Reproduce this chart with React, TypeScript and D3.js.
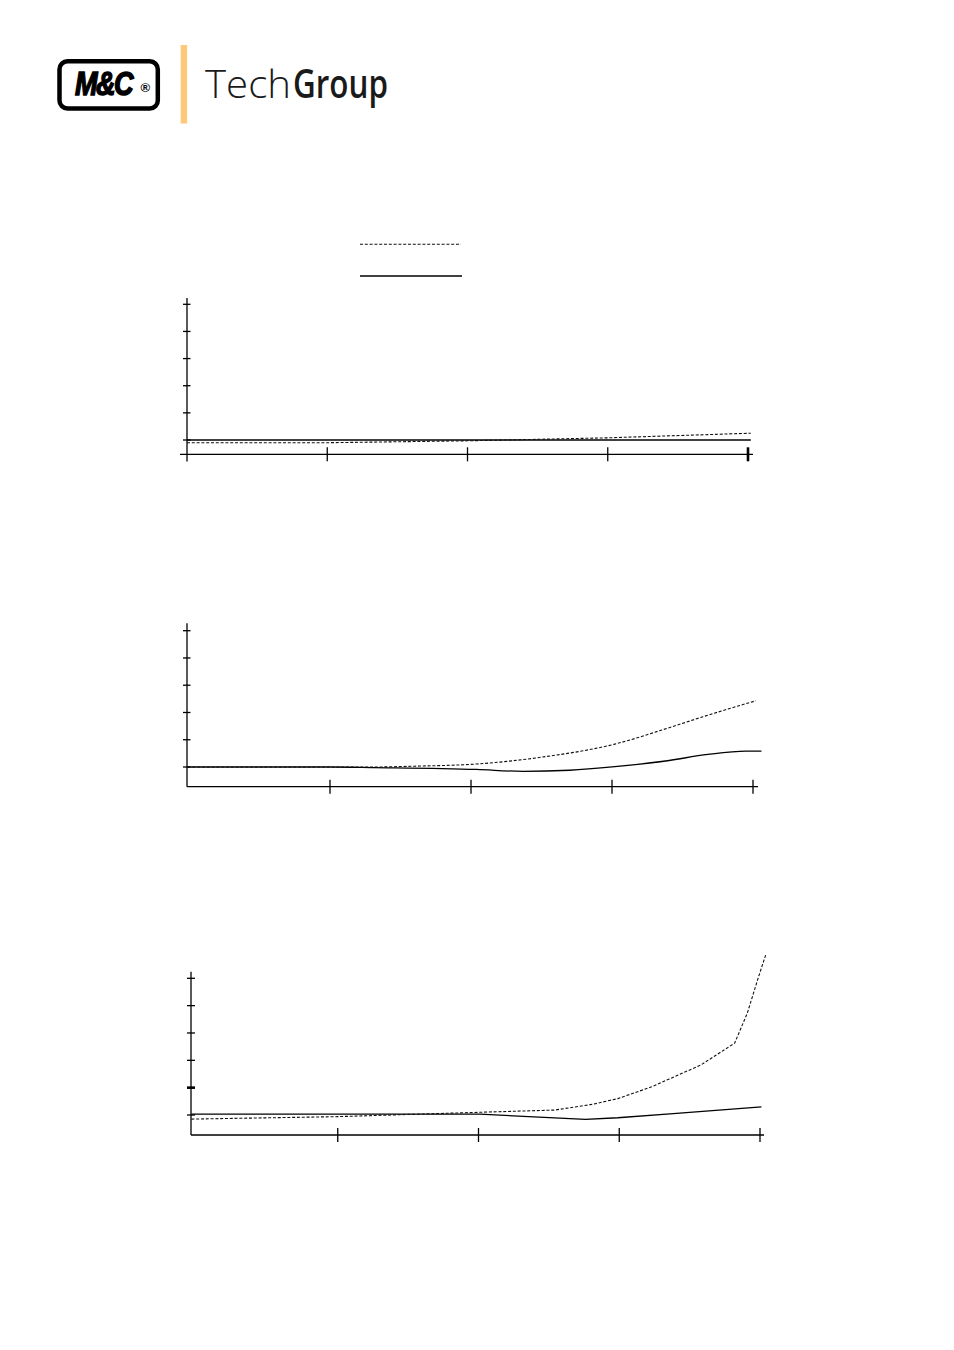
import React from "react";
import * as d3 from "d3";

// ---------- data ----------
const xTicks = [1, 2, 3, 4];
const yTicks = [0, 1, 2, 3, 4, 5];

// Panel 1
const p1DashedX = [0, 1, 2, 3, 4.02];
const p1DashedY = [-0.1, -0.1, -0.03, 0.08, 0.25];
const p1SolidX = [0, 1, 2, 3, 4.02];
const p1SolidY = [0, 0, 0, 0, 0];

// Panel 2
const p2DashedX = [-0.01, 1.0, 1.31, 1.6, 2.04, 2.5, 3.02, 3.41, 3.68, 4.02];
const p2DashedY = [0, 0, 0, 0.03, 0.11, 0.36, 0.84, 1.45, 1.9, 2.43];
const p2SolidX = [-0.01, 1.0, 1.31, 2.04, 2.37, 2.7, 3.02, 3.38, 3.68, 3.95, 4.06];
const p2SolidY = [0, 0, -0.02, -0.09, -0.16, -0.12, 0.01, 0.22, 0.46, 0.58, 0.58];

// Panel 3
const p3DashedX = [-0.04, 1.0, 2.01, 2.54, 2.81, 2.99, 3.23, 3.58, 3.82, 3.91, 3.99, 4.04];
const p3DashedY = [-0.15, -0.06, 0.1, 0.18, 0.39, 0.6, 1.03, 1.83, 2.63, 3.73, 5.06, 5.85];
const p3SolidX = [-0.04, 2.01, 2.76, 2.99, 3.36, 4.01];
const p3SolidY = [0.03, 0.03, -0.16, -0.1, 0.04, 0.3];

type Pt = [number, number];
const zip = (xs: number[], ys: number[]): Pt[] => xs.map((x, i) => [x, ys[i]]);

interface PanelCfg {
  x0: number; x4: number; y0: number; y5: number;
  yAxisX: number; yAxisTop: number; yAxisBottom: number;
  xAxisY: number; xAxisLeft: number; xAxisRight: number;
  yTickL: number; yTickR: number;
  boldX?: number; boldY?: number;
  dashed: Pt[]; solid: Pt[];
  curve: d3.CurveFactory;
}

const panels: PanelCfg[] = [
  {
    x0: 187, x4: 748, y0: 440, y5: 304.3,
    yAxisX: 187, yAxisTop: 298, yAxisBottom: 461.5,
    xAxisY: 454.3, xAxisLeft: 180, xAxisRight: 753,
    yTickL: 4, yTickR: 3.5, boldX: 4,
    dashed: zip(p1DashedX, p1DashedY), solid: zip(p1SolidX, p1SolidY),
    curve: d3.curveLinear,
  },
  {
    x0: 189, x4: 753, y0: 767, y5: 630.7,
    yAxisX: 187, yAxisTop: 623.3, yAxisBottom: 786.7,
    xAxisY: 786.7, xAxisLeft: 187, xAxisRight: 758,
    yTickL: 4, yTickR: 3.5,
    dashed: zip(p2DashedX, p2DashedY), solid: zip(p2SolidX, p2SolidY),
    curve: d3.curveMonotoneX,
  },
  {
    x0: 197, x4: 760, y0: 1115, y5: 978.3,
    yAxisX: 191, yAxisTop: 971.7, yAxisBottom: 1135,
    xAxisY: 1135, xAxisLeft: 191, xAxisRight: 764,
    yTickL: 4, yTickR: 4, boldY: 1,
    dashed: zip(p3DashedX, p3DashedY), solid: zip(p3SolidX, p3SolidY),
    curve: d3.curveLinear,
  },
];

const Panel: React.FC<{ c: PanelCfg }> = ({ c }) => {
  const x = d3.scaleLinear().domain([0, 4]).range([c.x0, c.x4]);
  const y = d3.scaleLinear().domain([0, 5]).range([c.y0, c.y5]);
  const line = d3.line<Pt>().x((d) => x(d[0])).y((d) => y(d[1])).curve(c.curve);
  return (
    <g>
      <line x1={c.yAxisX} x2={c.yAxisX} y1={c.yAxisTop} y2={c.yAxisBottom} stroke="#000" strokeWidth={1.3} />
      <line x1={c.xAxisLeft} x2={c.xAxisRight} y1={c.xAxisY} y2={c.xAxisY} stroke="#000" strokeWidth={1.3} />
      {yTicks.map((t) => (
        <line key={"y" + t} x1={c.yAxisX - c.yTickL} x2={c.yAxisX + c.yTickR} y1={y(t)} y2={y(t)}
          stroke="#000" strokeWidth={c.boldY === t ? 2.6 : 1.3} />
      ))}
      {xTicks.map((t) => (
        <line key={"x" + t} x1={x(t)} x2={x(t)} y1={c.xAxisY - 7} y2={c.xAxisY + 7}
          stroke="#000" strokeWidth={c.boldX === t ? 2.6 : 1.3} />
      ))}
      <path d={line(c.solid) || ""} fill="none" stroke="#000" strokeWidth={1.3} />
      <path d={line(c.dashed) || ""} fill="none" stroke="#111" strokeWidth={1.1} strokeDasharray="3 1.8" />
    </g>
  );
};

export default function App() {
  return (
    <svg width={954} height={1350} style={{ position: "absolute", left: 0, top: 0, background: "#fff" }}>
      {/* Logo */}
      <rect x={59.5} y={61.3} width={98.3} height={47.2} rx={8} fill="none" stroke="#000" strokeWidth={4.5} />
      <text transform="translate(75,95) scale(1,1.25)" x={0} y={0} fontFamily="Liberation Sans, Arial"
        fontWeight={900} fontStyle="italic" fontSize={27} letterSpacing={-1.5}
        fill="#000" stroke="#000" strokeWidth={1.2}>M&amp;C</text>
      <text x={140.5} y={91.5} fontFamily="Liberation Sans, Arial" fontWeight={700} fontSize={13} fill="#000">®</text>
      <rect x={180.7} y={45} width={6.4} height={78.5} fill="#FDC878" />
      <text x={205} y={97.7} fontFamily="Open Sans, Noto Sans" fontWeight={300} fontSize={39}
        textLength={86} lengthAdjust="spacingAndGlyphs" fill="#1a1a1a">Tech</text>
      <text x={293} y={97.7} fontFamily="Open Sans, Noto Sans" fontWeight={600} fontSize={39}
        textLength={95} lengthAdjust="spacingAndGlyphs" fill="#1a1a1a">Group</text>

      {/* Legend */}
      <line x1={360} x2={461} y1={244.3} y2={244.3} stroke="#111" strokeWidth={1.1} strokeDasharray="3 1.8" />
      <line x1={360} x2={462} y1={276} y2={276} stroke="#000" strokeWidth={1.3} />

      {panels.map((p, i) => (
        <Panel key={i} c={p} />
      ))}
    </svg>
  );
}
